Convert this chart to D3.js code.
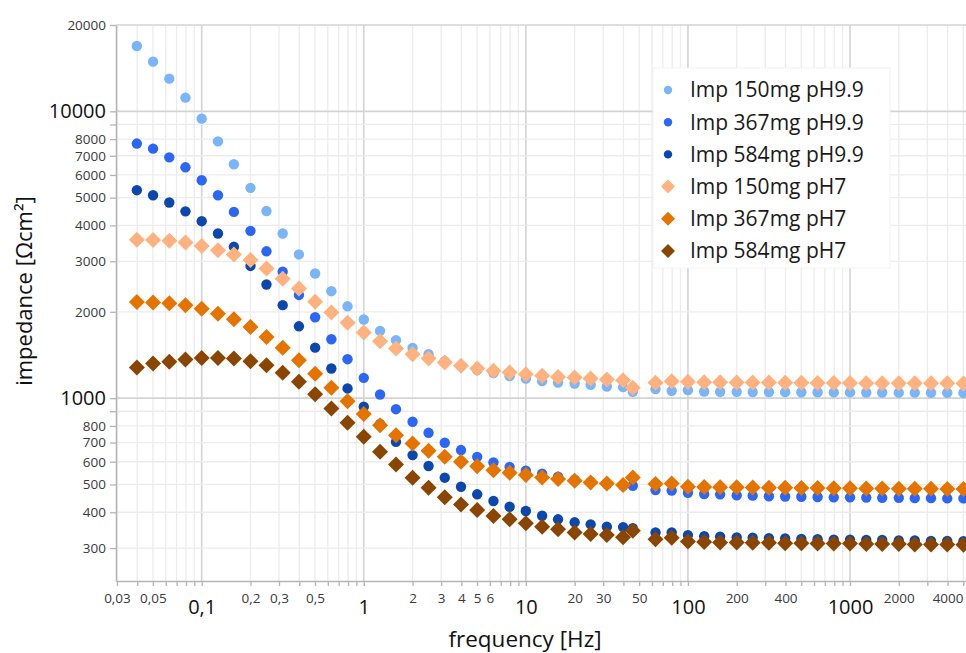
<!DOCTYPE html>
<html><head><meta charset="utf-8">
<script src="https://cdn.jsdelivr.net/npm/d3@7"></script>
<style>body{margin:0;background:#fff;overflow:hidden} text{font-family:"Open Sans",sans-serif}</style>
</head><body><svg id="c" width="966" height="653"></svg>
<script>
// ---- data ----
const frequencies = [0.0398,0.0501,0.0631,0.0794,0.1,0.126,0.158,0.2,0.251,0.316,0.398,0.501,0.631,0.794,1,1.26,1.58,2,2.51,3.16,3.98,5.01,6.31,7.94,10,12.6,15.8,20,25.1,31.6,39.8,45.7,63.1,79.4,100,126,158,200,251,316,398,501,631,794,1000,1260,1580,2000,2510,3160,3980,5010];
const imp150pH99 = [16900,14900,13000,11160,9430,7860,6540,5410,4490,3750,3170,2720,2360,2090,1880,1716,1593,1497,1423,1345,1293,1252,1222,1193,1171,1146,1134,1125,1113,1098,1092,1052,1075,1060,1066,1055,1052,1052,1050,1050,1049,1048,1048,1047,1047,1046,1046,1045,1045,1044,1044,1043];
const imp367pH99 = [7720,7410,6910,6380,5750,5100,4460,3830,3250,2760,2290,1915,1605,1367,1177,1030,915,827,757,699,659,624,597,576,558,545,532,520,510,502,496,495,478,476,468,463,462,458,457,455,454,453,452,451,451,450,449,449,448,448,447,447];
const imp584pH99 = [5310,5100,4810,4480,4140,3750,3370,2890,2490,2110,1780,1500,1269,1081,933,812,704,633,580,528,491,462,438,418,404,389,378,369,363,356,355,352,340,340,333,330,329,327,326,325,324,323,322,321,321,320,320,319,319,318,318,317];
const imp150pH7 = [3570,3560,3540,3490,3390,3280,3170,3030,2830,2610,2410,2170,1990,1830,1694,1580,1490,1423,1375,1331,1296,1269,1245,1229,1212,1196,1186,1181,1171,1162,1155,1086,1131,1146,1140,1136,1135,1134,1134,1133,1132,1131,1130,1130,1129,1128,1128,1127,1127,1126,1126,1125];
const imp367pH7 = [2165,2155,2140,2110,2050,1970,1885,1770,1635,1500,1356,1215,1086,976,880,805,743,695,655,624,600,579,561,549,539,529,522,515,508,504,498,529,502,504,491,490,489,489,488,487,487,486,486,485,485,484,484,483,483,483,482,482];
const imp584pH7 = [1279,1321,1338,1364,1381,1381,1375,1345,1303,1225,1140,1032,921,820,733,650,587,528,487,451,426,407,388,378,366,356,349,340,336,333,327,345,322,326,316,315,314,314,313,313,312,312,311,311,311,310,310,310,309,309,309,308];
const seriesNames = ["Imp 150mg pH9.9","Imp 367mg pH9.9","Imp 584mg pH9.9","Imp 150mg pH7","Imp 367mg pH7","Imp 584mg pH7"];
const seriesValues = [imp150pH99, imp367pH99, imp584pH99, imp150pH7, imp367pH7, imp584pH7];
const seriesColors = ["#79b5f8","#2b66f6","#0b47ad","#ffb27f","#e57300","#8a4500"];
const seriesShapes = ["circle","circle","circle","diamond","diamond","diamond"];

const xTickValues = [0.03,0.04,0.05,0.06,0.07,0.08,0.09,0.1,0.2,0.3,0.4,0.5,0.6,0.7,0.8,0.9,1,2,3,4,5,6,7,8,9,10,20,30,40,50,60,70,80,90,100,200,300,400,500,600,700,800,900,1000,2000,3000,4000,5000];
const xLabelValues = [0.03,0.05,0.1,0.2,0.3,0.5,1,2,3,4,5,6,10,20,30,50,100,200,400,1000,2000,4000];
const xLabelTexts = ["0,03","0,05","0,1","0,2","0,3","0,5","1","2","3","4","5","6","10","20","30","50","100","200","400","1000","2000","4000"];
const xMajor = [0.1,1,10,100,1000];
const yTickValues = [300,400,500,600,700,800,900,1000,2000,3000,4000,5000,6000,7000,8000,9000,10000,20000];
const yLabelValues = [300,400,500,600,700,800,1000,2000,3000,4000,5000,6000,7000,8000,10000,20000];
const yMajor = [1000,10000];

// ---- layout ----
const L = 116, R = 966, T = 25, B = 581;
const svg = d3.select("#c");
const x0 = d3.scaleLog().domain([0.1, 1000]).range([201.7, 850]);
const x = d3.scaleLog().domain([x0.invert(L), x0.invert(R)]).range([L, R]);
const y0 = d3.scaleLog().domain([1000, 10000]).range([398, 111]);
const y = d3.scaleLog().domain([y0.invert(B), 20000]).range([B, T]);

const eq = (a,b) => Math.abs(a-b) < 1e-9*Math.max(a,b);
const isIn = (arr,v) => arr.some(a => eq(a,v));

// grid
const grid = svg.append("g");
grid.selectAll("line.v").data(xTickValues.filter(v => x(v) >= L && x(v) <= R)).join("line")
  .attr("x1", d => x(d)).attr("x2", d => x(d)).attr("y1", T).attr("y2", B)
  .attr("stroke", d => isIn(xMajor,d) ? "#d3d3d3" : "#ececec")
  .attr("stroke-width", d => isIn(xMajor,d) ? 1.6 : 1.3);
grid.selectAll("line.h").data(yTickValues).join("line")
  .attr("x1", L).attr("x2", R).attr("y1", d => y(d)).attr("y2", d => y(d))
  .attr("stroke", d => (isIn(yMajor,d) || d === 20000) ? "#d3d3d3" : "#ececec")
  .attr("stroke-width", d => isIn(yMajor,d) ? 1.6 : 1.3);

// axes
const xAxis = d3.axisBottom(x).tickValues(xTickValues).tickSize(5).tickSizeOuter(0)
  .tickFormat(d => { const i = xLabelValues.findIndex(v => eq(v,d)); return i >= 0 ? xLabelTexts[i] : ""; });
const gx = svg.append("g").attr("transform", `translate(0,${B})`).call(xAxis);
gx.select(".domain").attr("stroke", "#b5b5b5").attr("stroke-width", 1.6);
gx.selectAll(".tick line").attr("stroke", "#b5b5b5").attr("stroke-width", 1.3);
gx.selectAll(".tick text").attr("dy", null)
  .attr("y", d => isIn(xMajor,d) ? 33 : 22)
  .style("font-size", d => isIn(xMajor,d) ? "20px" : "13.5px")
  .attr("fill", d => isIn(xMajor,d) ? "#111" : "#3a3a3a")
  .style("font-family", '"Open Sans",sans-serif');

const yAxis = d3.axisLeft(y).tickValues(yTickValues).tickSize(6).tickPadding(4).tickSizeOuter(0)
  .tickFormat(d => isIn(yLabelValues,d) ? String(d) : "");
const gy = svg.append("g").attr("transform", `translate(${L},0)`).call(yAxis);
gy.select(".domain").attr("stroke", "#b5b5b5").attr("stroke-width", 1.6);
gy.selectAll(".tick line").attr("stroke", "#b5b5b5").attr("stroke-width", 1.3);
gy.selectAll(".tick text")
  .style("font-size", d => isIn(yMajor,d) ? "20px" : "13.5px")
  .attr("fill", d => isIn(yMajor,d) ? "#111" : "#3a3a3a")
  .style("font-family", '"Open Sans",sans-serif');

// titles
svg.append("text").attr("x", 525).attr("y", 647).attr("text-anchor", "middle")
  .style("font-size", "22.5px").attr("fill", "#111").text("frequency [Hz]");
svg.append("text").attr("transform", "translate(32,291) rotate(-90)").attr("text-anchor", "middle")
  .style("font-size", "22px").attr("fill", "#111").text("impedance [Ωcm²]");

// marks
const diamond = s => `M0,${-s}L${s},0L0,${s}L${-s},0Z`;
const marks = svg.append("g");
seriesValues.forEach((vals, si) => {
  const pts = vals.map((v, i) => ({f: frequencies[i], v}));
  const g = marks.append("g");
  if (seriesShapes[si] === "circle") {
    g.selectAll("circle").data(pts).join("circle")
      .attr("cx", d => x(d.f)).attr("cy", d => y(d.v)).attr("r", 5.2)
      .attr("fill", seriesColors[si]);
  } else {
    g.selectAll("path").data(pts).join("path")
      .attr("transform", d => `translate(${x(d.f)},${y(d.v)})`)
      .attr("d", diamond(8)).attr("fill", seriesColors[si]);
  }
});

// legend
const lg = svg.append("g");
lg.append("rect").attr("x", 653).attr("y", 68).attr("width", 237).attr("height", 200)
  .attr("fill", "#fff").attr("stroke", "#f2f2f2");
seriesNames.forEach((n, i) => {
  const cy = 90 + i * 32.2;
  if (seriesShapes[i] === "circle") {
    lg.append("circle").attr("cx", 668).attr("cy", cy).attr("r", 4.2).attr("fill", seriesColors[i]);
  } else {
    lg.append("path").attr("transform", `translate(668,${cy})`).attr("d", diamond(7)).attr("fill", seriesColors[i]);
  }
  lg.append("text").attr("x", 690).attr("y", cy).attr("dy", "0.35em")
    .style("font-size", "21px").attr("fill", "#1a1a1a").text(n);
});
</script></body></html>
